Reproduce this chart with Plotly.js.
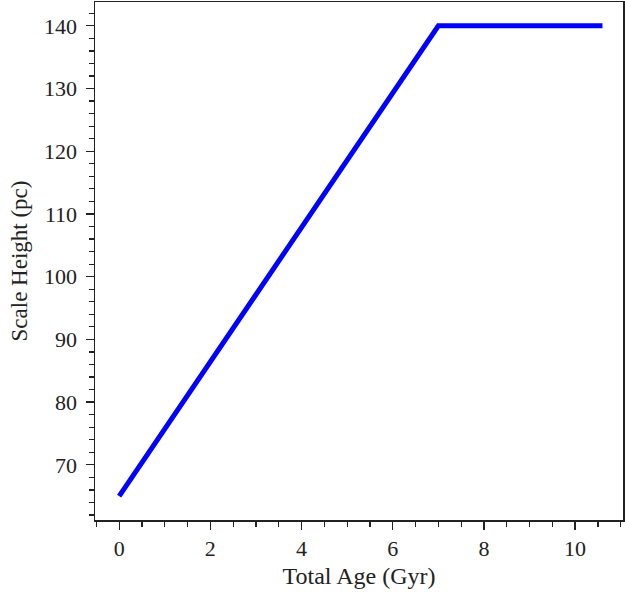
<!DOCTYPE html>
<html><head><meta charset="utf-8">
<script src="https://cdn.plot.ly/plotly-3.0.1.min.js"></script>
<style>html,body{margin:0;padding:0;background:#fff}</style>
</head><body>
<div id="chart" style="width:625px;height:596px"></div>
<script>
const ageGyr = [0, 7, 10.6];
const scaleHeightPc = [65, 140, 140];
const xTickVals = [0, 2, 4, 6, 8, 10];
const yTickVals = [70, 80, 90, 100, 110, 120, 130, 140];

const fam = '"Liberation Serif", "DejaVu Serif", serif';
const tickFont = {family: fam, size: 22, color: '#222'};
const xTitleFont = {family: fam, size: 24, color: '#222'};
const yTitleFont = {family: fam, size: 23, color: '#222'};
Plotly.newPlot('chart', [{
  x: ageGyr, y: scaleHeightPc, type: 'scatter', mode: 'lines',
  line: {color: '#0000ff', width: 5}
}], {
  width: 625, height: 596,
  margin: {l: 95, r: 2, t: 2, b: 76},
  paper_bgcolor: '#fff', plot_bgcolor: '#fff',
  font: tickFont,
  showlegend: false,
  xaxis: {
    range: [-0.53, 11.05], tickvals: xTickVals, ticks: 'outside', ticklen: 8, tickwidth: 1.3,
    tickcolor: '#222', showline: true, linecolor: '#222', linewidth: 1.5, mirror: true,
    showgrid: false, zeroline: false, ticklabelstandoff: 0, tickfont: tickFont,
    minor: {dtick: 0.5, ticks: 'outside', ticklen: 5, tickwidth: 1.2, tickcolor: '#222', showgrid: false},
    title: {text: 'Total Age (Gyr)', font: xTitleFont, standoff: 7}
  },
  yaxis: {
    range: [61.2, 143.8], tickvals: yTickVals, ticks: 'outside', ticklen: 8, tickwidth: 1.3,
    tickcolor: '#222', showline: true, linecolor: '#222', linewidth: 1.5, mirror: true,
    showgrid: false, zeroline: false, ticklabelstandoff: 4, tickfont: tickFont,
    minor: {dtick: 2, ticks: 'outside', ticklen: 5, tickwidth: 1.2, tickcolor: '#222', showgrid: false},
    title: {text: 'Scale Height (pc)', font: yTitleFont, standoff: 10}
  }
}, {displayModeBar: false, staticPlot: true});
</script>
</body></html>
